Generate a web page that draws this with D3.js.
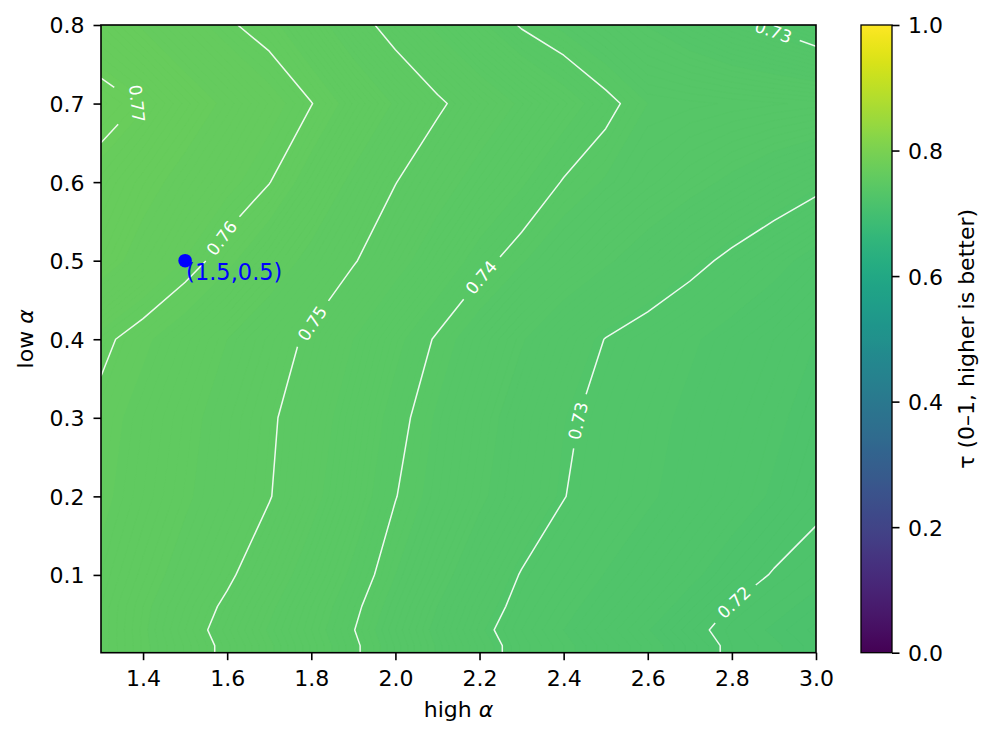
<!DOCTYPE html>
<html>
<head>
<meta charset="utf-8">
<script src="https://cdn.jsdelivr.net/npm/d3@7"></script>
<style>
  body { margin: 0; background: #fff; }
  svg { display: block; font-family: "DejaVu Sans", sans-serif; }
</style>
</head>
<body>
<svg id="chart" width="996" height="743"></svg>
<script>
// grid the score was evaluated on
const highAlpha = [1.3, 1.4, 1.5, 1.6, 1.7, 1.8, 1.9, 2.0, 2.1, 2.2, 2.3, 2.4, 2.5, 2.6, 2.7, 2.8, 2.9, 3.0];
const lowAlpha = [0.001, 0.01, 0.03, 0.06, 0.1, 0.2, 0.3, 0.4, 0.5, 0.6, 0.7, 0.8];

// tau, one row per lowAlpha value (bottom to top), one column per highAlpha value
const tau = [
  [0.7570, 0.7544, 0.7519, 0.7492, 0.7463, 0.7434, 0.7405, 0.7374, 0.7343, 0.7313, 0.7289, 0.7270, 0.7251, 0.7232, 0.7213, 0.7195, 0.7187, 0.7177],
  [0.7570, 0.7544, 0.7519, 0.7492, 0.7463, 0.7434, 0.7405, 0.7374, 0.7343, 0.7313, 0.7289, 0.7270, 0.7251, 0.7232, 0.7213, 0.7195, 0.7187, 0.7177],
  [0.7570, 0.7543, 0.7515, 0.7487, 0.7458, 0.7430, 0.7401, 0.7370, 0.7339, 0.7308, 0.7285, 0.7265, 0.7245, 0.7226, 0.7206, 0.7193, 0.7183, 0.7173],
  [0.7570, 0.7545, 0.7520, 0.7494, 0.7465, 0.7435, 0.7406, 0.7376, 0.7345, 0.7315, 0.7291, 0.7272, 0.7254, 0.7236, 0.7217, 0.7199, 0.7190, 0.7180],
  [0.7575, 0.7552, 0.7529, 0.7506, 0.7477, 0.7446, 0.7415, 0.7385, 0.7356, 0.7326, 0.7298, 0.7281, 0.7264, 0.7247, 0.7230, 0.7213, 0.7198, 0.7190],
  [0.7586, 0.7565, 0.7544, 0.7523, 0.7502, 0.7469, 0.7435, 0.7401, 0.7376, 0.7350, 0.7325, 0.7301, 0.7284, 0.7269, 0.7253, 0.7237, 0.7222, 0.7206],
  [0.7591, 0.7570, 0.7549, 0.7527, 0.7506, 0.7477, 0.7444, 0.7410, 0.7382, 0.7357, 0.7331, 0.7306, 0.7289, 0.7274, 0.7259, 0.7244, 0.7230, 0.7215],
  [0.7608, 0.7585, 0.7563, 0.7540, 0.7518, 0.7493, 0.7460, 0.7427, 0.7396, 0.7371, 0.7347, 0.7322, 0.7299, 0.7284, 0.7269, 0.7254, 0.7240, 0.7225],
  [0.7670, 0.7642, 0.7614, 0.7586, 0.7558, 0.7531, 0.7503, 0.7472, 0.7441, 0.7409, 0.7387, 0.7368, 0.7349, 0.7330, 0.7311, 0.7292, 0.7274, 0.7255],
  [0.7688, 0.7666, 0.7644, 0.7622, 0.7601, 0.7567, 0.7533, 0.7501, 0.7474, 0.7448, 0.7423, 0.7398, 0.7383, 0.7368, 0.7354, 0.7340, 0.7325, 0.7310],
  [0.7712, 0.7698, 0.7673, 0.7649, 0.7624, 0.7601, 0.7569, 0.7537, 0.7506, 0.7480, 0.7456, 0.7432, 0.7408, 0.7385, 0.7382, 0.7379, 0.7376, 0.7373],
  [0.7675, 0.7652, 0.7628, 0.7604, 0.7588, 0.7555, 0.7518, 0.7483, 0.7454, 0.7425, 0.7397, 0.7380, 0.7362, 0.7344, 0.7327, 0.7309, 0.7293, 0.7273]
];

// labelled contour levels and where their labels sit
const lineLevels = [0.72, 0.73, 0.74, 0.75, 0.76, 0.77];
const labelLevels = [0.77, 0.76, 0.75, 0.74, 0.73, 0.73, 0.72];
const labelX = [1.395, 1.597, 1.797, 2.197, 2.423, 2.898, 2.796];
const labelY = [0.701, 0.525, 0.422, 0.482, 0.297, 0.791, 0.071];

const pick = { x: 1.5, y: 0.5, text: "(1.5,0.5)" };

const xTicks = [1.4, 1.6, 1.8, 2.0, 2.2, 2.4, 2.6, 2.8, 3.0];
const yTicks = [0.1, 0.2, 0.3, 0.4, 0.5, 0.6, 0.7, 0.8];
const cbTicks = [0.0, 0.2, 0.4, 0.6, 0.8, 1.0];

// ---------------------------------------------------------------------------
const svg = d3.select('#chart');
const plot = { left: 101, right: 816, top: 25, bottom: 652.7 };
const cb = { left: 861, right: 892, top: 25, bottom: 652.7 };

const x = d3.scaleLinear().domain([1.3, 3.0]).range([plot.left, plot.right]);
const y = d3.scaleLinear().domain([0.001, 0.8]).range([plot.bottom, plot.top]);
const color = d3.scaleSequential(d3.interpolateViridis).domain([0, 1]);

const nx = highAlpha.length, ny = lowAlpha.length;
const values = tau.flat();
// grid index -> data value (piecewise linear, grid is not uniform)
const ix = d3.scaleLinear().domain(d3.range(nx)).range(highAlpha);
const iy = d3.scaleLinear().domain(d3.range(ny)).range(lowAlpha);
const clamp = (v, lo, hi) => Math.max(lo, Math.min(hi, v));
const gridToPx = (c, r) => [x(ix(clamp(c - 0.5, 0, nx - 1))), y(iy(clamp(r - 0.5, 0, ny - 1)))];

const contours = d3.contours().size([nx, ny]);
const proj = d3.geoTransform({
    point: function(c, r) {
        const p = gridToPx(c, r);
        this.stream.point(p[0], p[1]);
    }
});
const geoPath = d3.geoPath(proj);

svg.append('defs').append('clipPath').attr('id', 'plot-clip')
    .append('rect')
    .attr('x', plot.left).attr('y', plot.top)
    .attr('width', plot.right - plot.left).attr('height', plot.bottom - plot.top);

const g = svg.append('g').attr('clip-path', 'url(#plot-clip)');

// filled contours, many thin bands like contourf
const minV = d3.min(values), maxV = d3.max(values);
const step = 0.0005;
const fillLevels = d3.range(Math.floor(minV / step) + 1, Math.ceil(maxV / step) + 1).map(k => +(k * step).toFixed(5));

g.append('rect')
    .attr('x', plot.left).attr('y', plot.top)
    .attr('width', plot.right - plot.left).attr('height', plot.bottom - plot.top)
    .attr('fill', color(fillLevels[0] - step / 2));

g.selectAll('.band')
    .data(fillLevels)
    .enter().append('path')
    .attr('class', 'band')
    .attr('d', t => geoPath(contours.contour(values, t)))
    .attr('fill', t => color(t + step / 2))
    .attr('stroke', t => color(t + step / 2))
    .attr('stroke-width', 0.3);

// contour lines (drop the parts that run along the frame)
const eps = 0.3;
function edgeOf(p) {
    const e = [];
    if (Math.abs(p[0] - plot.left) < eps) e.push('l');
    if (Math.abs(p[0] - plot.right) < eps) e.push('r');
    if (Math.abs(p[1] - plot.top) < eps) e.push('t');
    if (Math.abs(p[1] - plot.bottom) < eps) e.push('b');
    return e;
}
function onFrame(a, b) {
    const ea = edgeOf(a), eb = edgeOf(b);
    return ea.some(e => eb.includes(e));
}
function levelLines(level) {
    const lines = [];
    contours.contour(values, level).coordinates.forEach(poly => poly.forEach(ring => {
        const pts = ring.map(p => gridToPx(p[0], p[1]));
        const n = pts.length - 1;
        const keep = d3.range(n).map(i => !onFrame(pts[i], pts[i + 1]));
        const start = keep.indexOf(false);
        if (start < 0) { lines.push(pts); return; }
        let cur = null;
        for (let k = 1; k <= n; k++) {
            const i = (start + k) % n;
            if (keep[i]) {
                if (!cur) cur = [pts[i]];
                cur.push(pts[i + 1]);
            } else if (cur) { lines.push(cur); cur = null; }
        }
        if (cur) lines.push(cur);
    }));
    return lines.filter(l => l.length > 1);
}

const linesByLevel = new Map(lineLevels.map(l => [l, levelLines(l)]));

// inline labels: cut a gap in the line and write the level there
const labelG = g.append('g');
labelLevels.forEach((level, k) => {
    const anchor = [x(labelX[k]), y(labelY[k])];
    const lines = linesByLevel.get(level);
    let best = null;
    lines.forEach((line, li) => {
        for (let i = 0; i < line.length - 1; i++) {
            const a = line[i], b = line[i + 1];
            const dx = b[0] - a[0], dy = b[1] - a[1];
            const L2 = dx * dx + dy * dy || 1e-9;
            const t = clamp(((anchor[0] - a[0]) * dx + (anchor[1] - a[1]) * dy) / L2, 0, 1);
            const px = a[0] + t * dx, py = a[1] + t * dy;
            const d = Math.hypot(anchor[0] - px, anchor[1] - py);
            if (!best || d < best.d) best = { d, li, i, t };
        }
    });
    if (!best) return;
    const line = lines[best.li];
    const cum = [0];
    for (let i = 1; i < line.length; i++) cum.push(cum[i - 1] + Math.hypot(line[i][0] - line[i - 1][0], line[i][1] - line[i - 1][1]));
    const total = cum[cum.length - 1];
    const s0 = cum[best.i] + best.t * (cum[best.i + 1] - cum[best.i]);
    const pointAt = s => {
        let i = d3.bisectRight(cum, s) - 1;
        i = clamp(i, 0, line.length - 2);
        const seg = cum[i + 1] - cum[i] || 1e-9;
        const f = clamp((s - cum[i]) / seg, 0, 1);
        return [line[i][0] + f * (line[i + 1][0] - line[i][0]), line[i][1] + f * (line[i + 1][1] - line[i][1])];
    };

    const txt = labelG.append('text')
        .attr('fill', '#fff')
        .attr('font-size', '17px')
        .attr('text-anchor', 'middle')
        .attr('dy', '0.36em')
        .text(level.toFixed(2));
    const w = txt.node().getComputedTextLength();
    const gap = w + 18;
    const s1 = Math.max(0, s0 - gap / 2), s2 = Math.min(total, s0 + gap / 2);
    const p1 = pointAt(s1), p2 = pointAt(s2), pc = pointAt(s0);
    let ang = Math.atan2(p2[1] - p1[1], p2[0] - p1[0]) * 180 / Math.PI;
    while (ang > 90) ang -= 180;
    while (ang <= -90) ang += 180;
    txt.attr('transform', `translate(${pc[0]},${pc[1]}) rotate(${ang})`);

    const before = line.filter((p, i) => cum[i] < s1).concat([p1]);
    const after = [p2].concat(line.filter((p, i) => cum[i] > s2));
    const pieces = [before, after].filter(l => l.length > 1);
    lines.splice(best.li, 1, ...pieces);
});

const lineGen = d3.line();
lineLevels.forEach(level => {
    g.insert('g', () => labelG.node())
        .selectAll('path')
        .data(linesByLevel.get(level))
        .enter().append('path')
        .attr('d', lineGen)
        .attr('fill', 'none')
        .attr('stroke', '#fff')
        .attr('stroke-opacity', 0.9)
        .attr('stroke-width', 1.5)
        .attr('stroke-linejoin', 'round');
});

// the picked setting
g.append('circle')
    .attr('cx', x(pick.x)).attr('cy', y(pick.y))
    .attr('r', 6.8)
    .attr('fill', '#0000ff');
g.append('text')
    .attr('x', x(pick.x) + 1).attr('y', y(pick.y) + 19.5)
    .attr('fill', '#0000ff')
    .attr('font-size', '22.5px')
    .text(pick.text);

// frame
svg.append('rect')
    .attr('x', plot.left).attr('y', plot.top)
    .attr('width', plot.right - plot.left).attr('height', plot.bottom - plot.top)
    .attr('fill', 'none').attr('stroke', '#000').attr('stroke-width', 1.6);

// axes
const fmt = d3.format('.1f');
const xAxis = svg.append('g')
    .attr('transform', `translate(0,${plot.bottom})`)
    .call(d3.axisBottom(x).tickValues(xTicks).tickFormat(fmt).tickSize(7.5).tickPadding(10.5).tickSizeOuter(0));
const yAxis = svg.append('g')
    .attr('transform', `translate(${plot.left},0)`)
    .call(d3.axisLeft(y).tickValues(yTicks).tickFormat(fmt).tickSize(7.5).tickPadding(9).tickSizeOuter(0));
yAxis.selectAll('text').attr('dy', '0.36em');

// colorbar
const cbY = d3.scaleLinear().domain([0, 1]).range([cb.bottom, cb.top]);
const grad = svg.select('defs').append('linearGradient')
    .attr('id', 'cb-grad')
    .attr('x1', 0).attr('y1', 1).attr('x2', 0).attr('y2', 0);
grad.selectAll('stop')
    .data(d3.range(0, 1.0001, 0.02))
    .enter().append('stop')
    .attr('offset', d => d)
    .attr('stop-color', d => color(d));
svg.append('rect')
    .attr('x', cb.left).attr('y', cb.top)
    .attr('width', cb.right - cb.left).attr('height', cb.bottom - cb.top)
    .attr('fill', 'url(#cb-grad)')
    .attr('stroke', '#000').attr('stroke-width', 1.3);
const cbAxis = svg.append('g')
    .attr('transform', `translate(${cb.right},0)`)
    .call(d3.axisRight(cbY).tickValues(cbTicks).tickFormat(fmt).tickSize(7.5).tickPadding(8.5).tickSizeOuter(0));
cbAxis.selectAll('text').attr('dy', '0.36em');

[xAxis, yAxis, cbAxis].forEach(a => {
    a.select('.domain').remove();
    a.selectAll('line').attr('stroke', '#000').attr('stroke-width', 1.6);
    a.selectAll('text').attr('fill', '#000').attr('font-size', '22px').attr('font-family', '"DejaVu Sans", sans-serif');
});

// axis titles
const xt = svg.append('text')
    .attr('x', (plot.left + plot.right) / 2).attr('y', 717)
    .attr('text-anchor', 'middle')
    .attr('font-size', '22px');
xt.append('tspan').text('high ');
xt.append('tspan').attr('font-style', 'italic').text('α');

const yt = svg.append('text')
    .attr('transform', `translate(33,${(plot.top + plot.bottom) / 2}) rotate(-90)`)
    .attr('text-anchor', 'middle')
    .attr('font-size', '22px');
yt.append('tspan').text('low ');
yt.append('tspan').attr('font-style', 'italic').text('α');

svg.append('text')
    .attr('transform', `translate(974,${(cb.top + cb.bottom) / 2}) rotate(-90)`)
    .attr('text-anchor', 'middle')
    .attr('font-size', '22px')
    .text('τ (0–1, higher is better)');
</script>
</body>
</html>
